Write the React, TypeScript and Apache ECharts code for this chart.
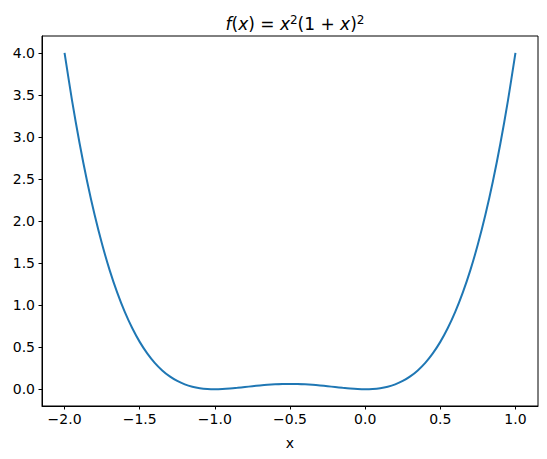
import React, { useEffect, useRef } from "react";
import * as echarts from "echarts";

const xs: number[] = [
  -2, -1.95, -1.9, -1.85, -1.8, -1.75, -1.7, -1.65, -1.6, -1.55, -1.5, -1.45, -1.4, -1.35, -1.3, -1.25,
  -1.2, -1.15, -1.1, -1.05, -1, -0.95, -0.9, -0.85, -0.8, -0.75, -0.7, -0.65, -0.6, -0.55, -0.5,
  -0.45, -0.4, -0.35, -0.3, -0.25, -0.2, -0.15, -0.1, -0.05, 0, 0.05, 0.1, 0.15, 0.2, 0.25, 0.3,
  0.35, 0.4, 0.45, 0.5, 0.55, 0.6, 0.65, 0.7, 0.75, 0.8, 0.85, 0.9, 0.95, 1,
];
const ys: number[] = [
  4, 3.4318, 2.9241, 2.4728, 2.0736, 1.7227, 1.4161, 1.1503, 0.9216, 0.7268, 0.5625, 0.4258, 0.3136,
  0.2233, 0.1521, 0.0977, 0.0576, 0.0298, 0.0121, 0.0028, 0, 0.0023, 0.0081, 0.0163, 0.0256, 0.0352,
  0.0441, 0.0518, 0.0576, 0.0613, 0.0625, 0.0613, 0.0576, 0.0518, 0.0441, 0.0352, 0.0256, 0.0163,
  0.0081, 0.0023, 0, 0.0028, 0.0121, 0.0298, 0.0576, 0.0977, 0.1521, 0.2233, 0.3136, 0.4258, 0.5625,
  0.7268, 0.9216, 1.1503, 1.4161, 1.7227, 2.0736, 2.4728, 2.9241, 3.4318, 4,
];
const xTicks: number[] = [-2, -1.5, -1, -0.5, 0, 0.5, 1];
const yTicks: number[] = [0, 0.5, 1, 1.5, 2, 2.5, 3, 3.5, 4];
const xLabel = "x";

const fmt = (v: number) => v.toFixed(1).replace("-", "\u2212");

export default function App() {
  const ref = useRef<HTMLDivElement>(null);
  useEffect(() => {
    if (!ref.current) return;
    const chart = echarts.init(ref.current, null, { renderer: "svg" });
    const font = "DejaVu Sans";
    chart.setOption({
      animation: false,
      title: {
        text:
          "{it|f}{n|(}{it|x}{n|) = }{it|x}{sup|2}{n|(1 + }{it|x}{n|)}{sup|2}",
        left: 290,
        textAlign: "center",
        top: 8,
        textStyle: {
          fontWeight: "normal",
          rich: {
            it: { fontFamily: font, fontStyle: "italic", fontWeight: "normal", fontSize: 17, color: "#000", lineHeight: 22 },
            n: { fontFamily: font, fontWeight: "normal", fontSize: 17, color: "#000", lineHeight: 22 },
            sup: { fontFamily: font, fontWeight: "normal", fontSize: 12, color: "#000", lineHeight: 22, padding: [0, 0, 9, 0] },
          },
        },
      },
      grid: {
        left: 42,
        right: 9,
        top: 36,
        bottom: 53,
        show: true,
        borderColor: "#000",
        borderWidth: 1,
        backgroundColor: "transparent",
      },
      xAxis: {
        type: "value",
        min: -2.15,
        max: 1.15,
        name: xLabel,
        nameLocation: "middle",
        nameGap: 30,
        nameTextStyle: { fontFamily: font, fontSize: 14, color: "#000" },
        axisLine: { show: true, onZero: false, lineStyle: { color: "#000", width: 1 } },
        axisTick: { show: true, length: 3.5, customValues: xTicks, lineStyle: { color: "#000" } },
        axisLabel: {
          customValues: xTicks,
          formatter: (v: number) => fmt(v),
          fontFamily: font,
          fontSize: 14,
          color: "#000",
          margin: 6,
        },
        splitLine: { show: false },
      },
      yAxis: {
        type: "value",
        min: -0.2,
        max: 4.2,
        axisLine: { show: true, onZero: false, lineStyle: { color: "#000", width: 1 } },
        axisTick: { show: true, length: 3.5, customValues: yTicks, lineStyle: { color: "#000" } },
        axisLabel: {
          customValues: yTicks,
          formatter: (v: number) => fmt(v),
          fontFamily: font,
          fontSize: 14,
          color: "#000",
          margin: 7,
        },
        splitLine: { show: false },
      },
      series: [
        {
          type: "line",
          data: xs.map((x, i) => [x, ys[i]]),
          smooth: 0.3,
          showSymbol: false,
          lineStyle: { color: "#1f77b4", width: 2 },
        },
      ],
    });
    return () => chart.dispose();
  }, []);
  return <div ref={ref} style={{ width: 547, height: 459, position: "absolute", left: 0, top: 0 }} />;
}
